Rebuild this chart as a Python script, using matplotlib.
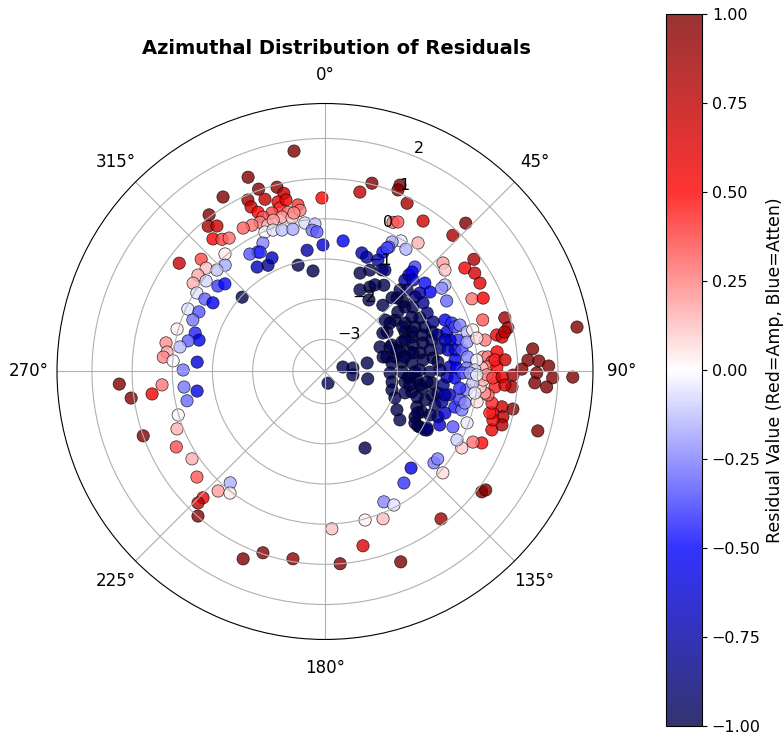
import numpy as np
import matplotlib
matplotlib.use('Agg')
import matplotlib.pyplot as plt

# station azimuth (deg, clockwise from north) and residual value
# north-west arc
az_nw = [352, 338.4, 329.7, 340, 345.4, 347, 340.8, 335.8, 335.8, 323.5, 321.2, 323.4, 319.8,
         322.1, 324.3, 337.2, 344.5, 344.6, 347.2, 346.9, 341.5, 338.1, 336.5, 333.5, 330.3,
         344.4, 347.9, 350.8, 351.2, 348.9, 338.7, 341.1, 359, 336.7, 339.8, 343.1, 347.3,
         352.3, 356.1, 354.8, 356.7, 359.1, 351.6, 334.2, 330.7, 327.4, 319.6, 331.8, 335,
         327, 345.8, 353.2, 331.5]
res_nw = [1.74, 1.40, 1.23, 1.03, 0.94, 0.75, 0.74, 0.88, 0.69, 1.05, 0.84, 0.71, 0.52,
          0.37, 0.29, 0.50, 0.58, 0.42, 0.58, 0.27, 0.36, 0.34, 0.25, 0.27, 0.31,
          0.19, 0.11, 0.40, 0.26, 0.22, 0.11, 0.18, 0.52, -0.02, -0.05, -0.12, -0.17,
          -0.07, -0.12, -0.27, -0.32, -0.65, -0.75, -0.25, -0.39, -0.33, 0.04, -0.80, -0.68,
          -0.70, -1.07, -1.28, -0.42]

# west / south-west arc
az_w = [306.6, 312.2, 311, 307.2, 303.8, 316.8, 313.2, 307.3, 308.6, 311.2, 301.5, 301.1,
        301.5, 311.9, 294.5, 295.3, 291.3, 286, 286.5, 284, 282.6, 279.6, 280.2, 277, 275.1,
        274, 270.6, 274.2, 266.5, 265.3, 263.7, 261.3, 258, 262.2, 262.6, 253.5, 248.8, 250.5,
        243.1, 236.7, 230.5, 220.4, 221.8, 218, 224, 224, 221.3]
res_w = [0.72, 0.36, 0.12, 0.17, 0.15, -0.17, -0.11, -0.08, -0.39, -0.49, -0.06, -0.31,
         -0.53, -1.03, -0.05, -0.33, -0.27, 0.03, -0.43, -0.57, -0.31, -0.14, 0.22, 0.16, 0.24,
         -0.01, -0.27, -0.61, 1.33, 0.27, -0.27, -0.58, -0.29, 1.07, 0.54, 0.01, 0.15, 1.00,
         0.35, 0.16, 0.33, -0.16, 0.19, 0.04, 0.57, 0.75, 0.99]

# south
az_s = [203.6, 198.9, 189.7, 175.5, 177.5, 164.9, 167.7, 165.4, 99.9, 152.4, 138.3, 144.7,
        130, 127.8, 130.7, 155.7, 152.7, 158.5, 158.3, 141.8, 127.5, 126.4, 105.6]
res_s = [1.29, 0.97, 0.93, 1.00, 0.12, 0.03, 0.64, -3.5, -2.72, -1.65, -0.58, -0.40,
         -0.26, -0.25, 0.07, -0.24, -0.06, 0.14, 1.30, 0.87, 1.12, 1.17, 1.70]

# north-east and east
az_e = [14, 11, 21.9, 21.9, 26, 33.1, 43.5, 43.2, 24.5, 26, 35.9, 30.2, 33.5, 27.4, 27.2,
        25.9, 26.7, 7.9, 17.3, 20.1, 25.4, 19.6, 23.9, 29.3, 40.7, 41, 47.4, 49.8, 53.5, 53,
        56.7, 60.3, 63.7, 65.1, 71.9, 73.4, 76.6, 78, 79, 78.9, 84.8, 84.9, 83.5, 86.7, 88.4,
        88.5, 88.7, 83.8, 86.8, 87.2, 88.6, 89.3, 90.4, 91.6, 91.3, 80, 93.1, 94, 91.1, 94.7,
        101.3, 101.3, 104.3, 103.9, 109.3, 86.1, 86.3, 91.9, 95.2, 106.8, 106.1, 104.1, 100.7,
        98.2, 97.7, 95.7, 93.1, 91.2, 92.2, 91.8, 94.3, 114.5, 115.5, 119.2, 117.4, 113.4,
        109.9, 120.3, 120.4]
res_e = [1.03, 0.75, 1.20, 1.07, 0.86, 0.67, 1.29, 0.85, 0.28, 0.34, 0.15, -0.04, -0.15,
         -0.17, -0.32, -0.50, -0.36, -0.52, -0.71, -0.77, -0.73, -1.20, -1.04, -0.90, -0.37,
         -0.62, 0.19, 0.11, 0.53, 0.84, 0.66, 0.64, 0.28, 0.54, 0.33, 0.87, 0.88, 0.57, 0.69,
         0.26, 0.15, 0.27, 0.51, 0.36, 0.23, 0.48, 0.11, 1.40, 1.26, 1.53, 1.77, 1.10, 1.47,
         1.87, 2.37, 2.57, 1.43, 1.73, 0.88, 0.87, 0.97, 0.69, 0.77, 0.50, 0.60, 0.44, 0.69,
         0.43, 0.45, 0.80, 0.55, 0.43, 0.43, 0.30, 0.21, 0.08, 0.14, 0.23, 0.38, 0.61, 0.69,
         0.49, 0.28, 0.10, -0.10, -0.33, -0.04, -0.92, -1.12]

# dense cluster east of centre
az_c = [30.6, 34.3, 41.1, 57.5, 53.7, 68.4, 76.8, 78.3, 41.2, 41.2, 43.9, 48.5, 52.9, 50.4,
        50.4, 48.3, 51.1, 53.8, 55, 60.2, 60.6, 58, 58.8, 63.7, 66, 65.4, 69.7, 69.4, 68.4,
        63.7, 69, 73.2, 73.8, 73.6, 72.1, 78.5, 78.4, 79, 77.1, 75.4, 82.8, 83, 84.4, 83.3,
        82.9, 85.2, 66.8, 69.1, 72.1, 71.1, 71, 76.7, 75.9, 75.3, 80.6, 80.1, 81.1, 74.5, 78.3,
        74.3, 77.6, 84.2, 85.7, 84.9, 87.9, 88.5, 88.6, 89.4, 59.9, 54.2, 54.5, 77.6,
        105.4, 97.5, 93.7, 95.3, 103.3, 105, 99.7, 105.9, 111.1, 112.7, 116.8, 120.3, 119.8,
        96.1, 102.4, 106.9, 111.9, 109.1, 104.6, 100.8, 96.5, 92.6, 92.9, 100.6, 105.3, 105.7,
        101.9, 102.7, 97.4, 97, 94.4, 101.3, 98.2, 90.6, 90.6, 91.3,
        76, 82.9, 78.6, 66, 56.4, 53.3, 44.4, 45.2, 90.4, 93.8, 90.3, 98.1, 105.5, 95.9, 114,
        119.8, 91.3, 69.3, 73.4, 98.9, 76, 31.6, 49.4, 28, 97.1,
        60.3, 65.6, 68.5, 78.1, 79.7, 99, 119, 118.1, 122.9, 110.7, 112.5, 115, 101.1, 89.3,
        90.3, 89.1, 50.8, 42.3, 42.6, 30, 23.2]
res_c = [-0.87, -1.20, -1.61, -1.97, -1.64, -2.01, -2.22, -2.02, -0.78, -0.51, -0.64, -0.48,
         -0.52, -0.74, -0.89, -1.20, -1.24, -1.09, -0.82, -0.87, -1.09, -1.25, -1.47, -1.30,
         -1.08, -0.84, -0.96, -1.22, -1.47, -1.58, -1.75, -1.51, -1.26, -1.03, -0.85, -0.88,
         -1.13, -1.39, -1.63, -1.87, -2.12, -1.87, -1.63, -1.34, -1.09, -0.98, -0.55, -0.42,
         -0.61, -0.38, -0.25, -0.40, -0.59, -0.71, -0.52, -0.69, -0.35, -0.13, -0.19, 0.02,
         0.07, -0.23, -0.01, -0.55, -0.69, -0.52, -0.27, -0.07, -0.30, -0.12, -0.23, 0.78,
         -2.07, -1.79, -1.68, -1.50, -1.58, -1.74, -1.35, -1.21, -1.35, -1.19, -1.29, -1.06,
         -0.87, -1.12, -1.07, -0.94, -0.77, -0.64, -0.79, -0.94, -0.84, -0.76, -0.56, -0.64,
         -0.45, -0.26, -0.37, -0.23, -0.24, -0.42, -0.11, 0.06, -0.03, -0.37, -0.19, -0.02,
         -3.34, -3.10, -2.73, -2.30, -2.07, -1.78, -1.24, -0.92, -1.88, -1.73, -1.56, -1.41,
         -1.42, -1.25, -1.27, -1.22, -2.18, -2.07, -1.93, -2.11, -2.31, -1.71, -1.83, -1.42,
         -3.10,
         -1.57, -1.42, -1.66, -1.56, -1.78, -1.66, -0.90, -1.77, -1.58, -1.94, -0.97, -0.65,
         -0.76, -0.94, -1.19, -1.44, -1.46, -1.32, -1.04, -1.31, -1.59]

azimuth = np.array(az_nw + az_w + az_s + az_e + az_c)
residual = np.array(res_nw + res_w + res_s + res_e + res_c)

cbar_ticks = [-1.0, -0.75, -0.5, -0.25, 0.0, 0.25, 0.5, 0.75, 1.0]

fig = plt.figure(figsize=(7.83, 7.37), dpi=100)
ax = fig.add_axes([0.0728, 0.1323, 0.6845, 0.7273], projection='polar')
ax.set_theta_zero_location('N')
ax.set_theta_direction(-1)

sc = ax.scatter(np.radians(azimuth), residual, c=residual, cmap='seismic',
                vmin=-1, vmax=1, s=78, alpha=0.8, edgecolors='black', linewidths=0.5)

ax.set_ylim(-3.8, 2.87)
ax.set_yticks([-3, -2, -1, 0, 1, 2])
ax.tick_params(axis='y', labelsize=11.5)
ax.tick_params(axis='x', labelsize=12, pad=10)
ax.set_title('Azimuthal Distribution of Residuals', fontsize=14, fontweight='bold',
             x=0.522, y=1.1017, va='center', pad=0)

cax = fig.add_axes([0.8506, 0.0149, 0.046, 0.966])
cb = fig.colorbar(sc, cax=cax, ticks=cbar_ticks)
cb.ax.tick_params(labelsize=11.5)
cb.set_label('Residual Value (Red=Amp, Blue=Atten)', fontsize=12.5)

plt.savefig('out.png', dpi=100)
